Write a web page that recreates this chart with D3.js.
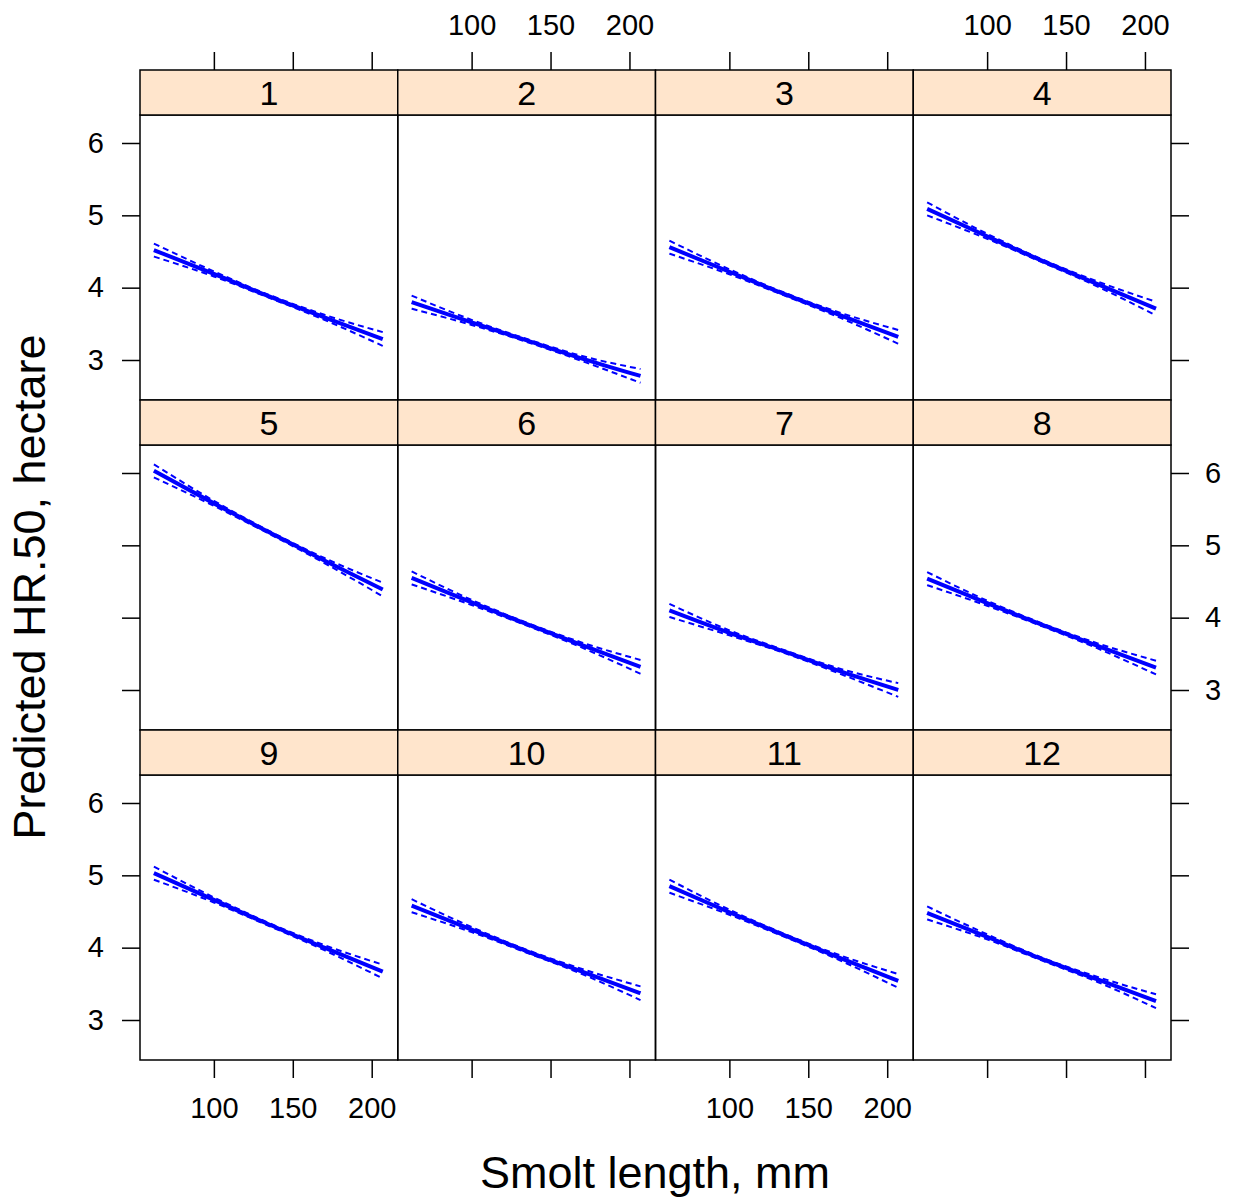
<!DOCTYPE html>
<html>
<head>
<meta charset="utf-8">
<script src="https://cdn.jsdelivr.net/npm/d3@7"></script>
<style>
  body { margin: 0; background: #fff; }
  text { font-family: "Liberation Sans", Arial, sans-serif; fill: #000; }
</style>
</head>
<body>
<div id="chart"></div>
<script>
// smolt length grid (mm) where the fitted curves are read
const lengths = [62, 100, 135, 170, 207];
const panelNames = ["1","2","3","4","5","6","7","8","9","10","11","12"];
// predicted HR.50 per panel
const fits = [
  [4.52, 4.19, 3.88, 3.59, 3.29],
  [3.80, 3.52, 3.27, 3.02, 2.78],
  [4.56, 4.22, 3.91, 3.62, 3.32],
  [5.09, 4.71, 4.37, 4.05, 3.71],
  [6.03, 5.58, 5.18, 4.79, 4.39],
  [4.55, 4.21, 3.91, 3.62, 3.32],
  [4.10, 3.79, 3.53, 3.26, 3.00],
  [4.54, 4.20, 3.90, 3.61, 3.31],
  [5.03, 4.66, 4.32, 4.00, 3.67],
  [4.58, 4.25, 3.95, 3.67, 3.37],
  [4.85, 4.49, 4.17, 3.86, 3.54],
  [4.48, 4.15, 3.84, 3.56, 3.26]
];
// half width of the confidence band at each length
const ciHalf = [0.09, 0.035, 0.02, 0.035, 0.095];
const xTicks = [100, 150, 200];
const yTicks = [3, 4, 5, 6];

const W = 1236, H = 1201;
const plotL = 140, plotR = 1171, plotT = 70;
const stripH = 45, panelH = 285, nCol = 4;
const colW = (plotR - plotL) / nCol;

const svg = d3.select("#chart").append("svg").attr("width", W).attr("height", H);

const x = d3.scaleLinear().domain([53.2, 216.5]).range([0, colW]);
const y = d3.scaleLinear().domain([2.447, 6.387]).range([panelH, 0]);

const line = d3.line().x(d => x(d[0])).y(d => y(d[1])).curve(d3.curveMonotoneX);

panelNames.forEach((name, i) => {
    const col = i % nCol, row = Math.floor(i / nCol);
    const px = plotL + col * colW;
    const sy = plotT + row * (stripH + panelH);
    const g = svg.append("g").attr("transform", `translate(${px},${sy + stripH})`);

    // strip
    svg.append("rect").attr("x", px).attr("y", sy).attr("width", colW).attr("height", stripH)
        .attr("fill", "#ffe5cc").attr("stroke", "#000").attr("stroke-width", 1.5);
    svg.append("text").attr("x", px + colW / 2).attr("y", sy + stripH / 2 + 12)
        .attr("text-anchor", "middle").style("font-size", "34px").text(name);

    // curves
    const fit = lengths.map((l, k) => [l, fits[i][k]]);
    const lo = lengths.map((l, k) => [l, fits[i][k] - ciHalf[k]]);
    const hi = lengths.map((l, k) => [l, fits[i][k] + ciHalf[k]]);
    [lo, hi].forEach(d => {
        g.append("path").attr("d", line(d)).attr("fill", "none")
            .attr("stroke", "#0000ff").attr("stroke-width", 2).attr("stroke-dasharray", "6,4");
    });
    g.append("path").attr("d", line(fit)).attr("fill", "none")
        .attr("stroke", "#0000ff").attr("stroke-width", 4);

    // panel frame
    g.append("rect").attr("width", colW).attr("height", panelH)
        .attr("fill", "none").attr("stroke", "#000").attr("stroke-width", 1.5);

    // top axis (first row)
    if (row === 0) {
        const ax = svg.append("g").attr("transform", `translate(${px},${plotT})`)
            .call(d3.axisTop(x).tickValues(xTicks).tickSize(18).tickPadding(17)
                .tickFormat(col % 2 === 1 ? d3.format("d") : () => ""));
        ax.select(".domain").remove();
    }
    // bottom axis (last row)
    if (row === 2) {
        const ax = svg.append("g").attr("transform", `translate(${px},${sy + stripH + panelH})`)
            .call(d3.axisBottom(x).tickValues(xTicks).tickSize(18).tickPadding(19)
                .tickFormat(col % 2 === 0 ? d3.format("d") : () => ""));
        ax.select(".domain").remove();
    }
    // left axis (first column)
    if (col === 0) {
        const ax = svg.append("g").attr("transform", `translate(${plotL},${sy + stripH})`)
            .call(d3.axisLeft(y).tickValues(yTicks).tickSize(18).tickPadding(18)
                .tickFormat(row % 2 === 0 ? d3.format("d") : () => ""));
        ax.select(".domain").remove();
    }
    // right axis (last column)
    if (col === nCol - 1) {
        const ax = svg.append("g").attr("transform", `translate(${plotR},${sy + stripH})`)
            .call(d3.axisRight(y).tickValues(yTicks).tickSize(18).tickPadding(16)
                .tickFormat(row % 2 === 1 ? d3.format("d") : () => ""));
        ax.select(".domain").remove();
    }
});

svg.selectAll(".tick line").attr("stroke", "#000").attr("stroke-width", 1.5);
svg.selectAll(".tick text").style("font-size", "29px").attr("font-family", null);

svg.append("text").attr("x", 655).attr("y", 1188).attr("text-anchor", "middle")
    .style("font-size", "45px").text("Smolt length, mm");
svg.append("text").attr("transform", "translate(45,587) rotate(-90)").attr("text-anchor", "middle")
    .style("font-size", "45px").text("Predicted HR.50, hectare");
</script>
</body>
</html>
